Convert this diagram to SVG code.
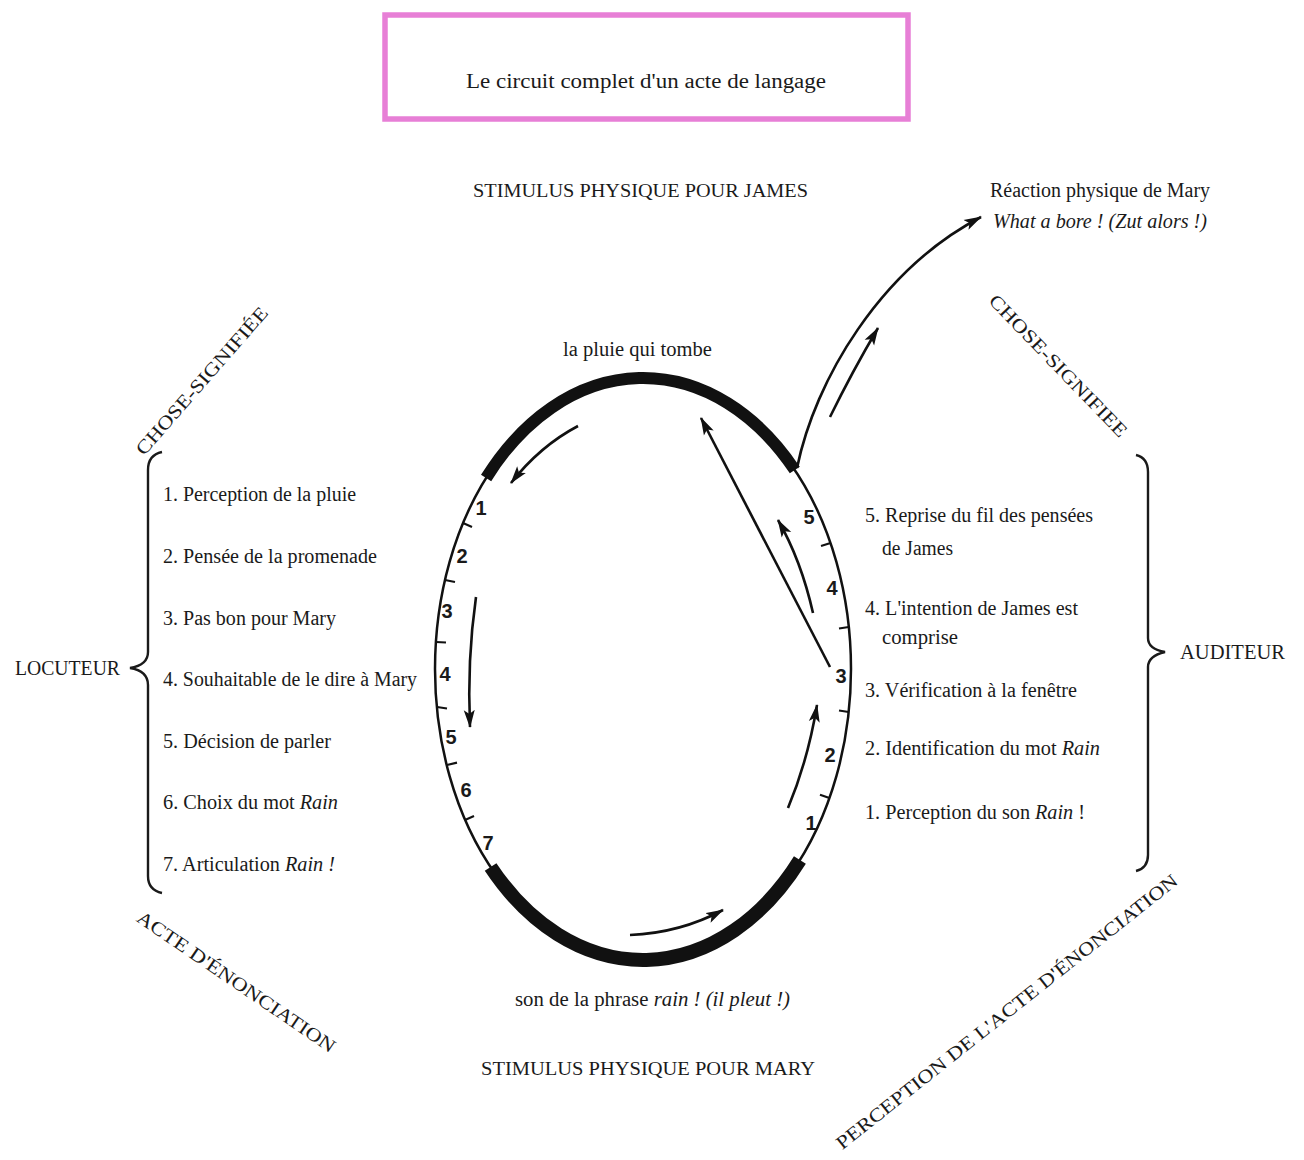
<svg xmlns="http://www.w3.org/2000/svg" width="1304" height="1160" viewBox="0 0 1304 1160">
<defs>
<marker id="ah" markerUnits="userSpaceOnUse" markerWidth="20" markerHeight="12" refX="17" refY="6" orient="auto">
<path d="M0,0.5 L18,6 L0,11.5 L4,6 Z" fill="#111"/>
</marker>
<style>
.t{font-family:"Liberation Serif","Times New Roman",serif;fill:#1a1a1a;font-size:20px}
.cap{font-size:19px}
.n{font-family:"Liberation Sans",Arial,sans-serif;font-weight:bold;font-size:20px;fill:#1a1a1a;text-anchor:middle}
.i{font-style:italic}
.thin{fill:none;stroke:#111;stroke-width:2.5}
.thick{fill:none;stroke:#111;stroke-linecap:butt}
.arr{fill:none;stroke:#111;stroke-width:2.6;marker-end:url(#ah)}
.tick{stroke:#111;stroke-width:2.2}
.brace{fill:none;stroke:#1a1a1a;stroke-width:2.4}
</style>
</defs>
<rect width="1304" height="1160" fill="#fff"/>

<g id="title">
<rect x="385" y="15" width="523" height="104" fill="none" stroke="#e77fd6" stroke-width="5.5"/>
<text class="t" x="466" y="88" font-size="23" textLength="360" lengthAdjust="spacingAndGlyphs">Le circuit complet d'un acte de langage</text>
</g>

<g id="circuit">
<ellipse class="thin" cx="643" cy="669" rx="208" ry="291"/>
<path class="thick" stroke-width="12" d="M486.1,478 A208,291 0 0 1 794.8,470"/>
<path class="thick" stroke-width="14" d="M799.9,860 A208,291 0 0 1 490.6,867"/>
<g id="ticks-left">
<line class="tick" x1="463" y1="523" x2="472" y2="527"/>
<line class="tick" x1="445" y1="580" x2="455" y2="582"/>
<line class="tick" x1="436" y1="642" x2="446" y2="642.5"/>
<line class="tick" x1="437" y1="707" x2="447" y2="708.5"/>
<line class="tick" x1="447" y1="765" x2="457" y2="762.6"/>
<line class="tick" x1="465" y1="820" x2="474" y2="816"/>
</g>
<g id="ticks-right">
<line class="tick" x1="830.5" y1="543" x2="821" y2="546"/>
<line class="tick" x1="848.8" y1="627" x2="839" y2="628.5"/>
<line class="tick" x1="848.7" y1="712" x2="839" y2="710.5"/>
<line class="tick" x1="829.4" y1="798" x2="820" y2="794.7"/>
</g>
<g id="numbers-left">
<text class="n" x="481" y="515">1</text>
<text class="n" x="462" y="563">2</text>
<text class="n" x="447" y="618">3</text>
<text class="n" x="445" y="681">4</text>
<text class="n" x="451" y="744">5</text>
<text class="n" x="466" y="797">6</text>
<text class="n" x="488" y="850">7</text>
</g>
<g id="numbers-right">
<text class="n" x="809" y="524">5</text>
<text class="n" x="832" y="595">4</text>
<text class="n" x="841" y="683">3</text>
<text class="n" x="830" y="762">2</text>
<text class="n" x="811" y="830">1</text>
</g>
</g>

<g id="connectors">
<path class="arr" d="M578,426 Q540,446 511,483"/>
<path class="arr" d="M476,597 Q467,660 470,727"/>
<path class="arr" d="M630,935 Q680,933 723,910"/>
<path class="arr" d="M788,808 Q808,760 817,705"/>
<path class="arr" d="M813,613 Q801,560 778,520"/>
<path class="arr" d="M830,667 L701,418"/>
<path class="arr" d="M830,417 Q852,372 878,328"/>
<path class="arr" d="M797,468 C815,380 880,270 981,217"/>
</g>

<g id="labels-center">
<text class="t cap" x="473" y="197" textLength="335" lengthAdjust="spacingAndGlyphs">STIMULUS PHYSIQUE POUR JAMES</text>
<text class="t" x="563" y="356" textLength="149" lengthAdjust="spacingAndGlyphs">la pluie qui tombe</text>
<text class="t" x="515" y="1006" textLength="275" lengthAdjust="spacingAndGlyphs">son de la phrase <tspan class="i">rain ! (il pleut !)</tspan></text>
<text class="t cap" x="481" y="1075" textLength="334" lengthAdjust="spacingAndGlyphs">STIMULUS PHYSIQUE POUR MARY</text>
</g>

<g id="reaction">
<text class="t" x="990" y="197" textLength="220" lengthAdjust="spacingAndGlyphs">Réaction physique de Mary</text>
<text class="t i" x="993" y="228" textLength="214" lengthAdjust="spacingAndGlyphs">What a bore ! (Zut alors !)</text>
</g>

<g id="locuteur">
<path class="brace" d="M162,452 Q148,455 148,470 L148,652 Q148,665 130,668 Q148,671 148,685 L148,876 Q148,890 162,893"/>
<text class="t" x="15" y="675" textLength="105" lengthAdjust="spacingAndGlyphs">LOCUTEUR</text>
<text class="t" x="163" y="501" textLength="193" lengthAdjust="spacingAndGlyphs">1. Perception de la pluie</text>
<text class="t" x="163" y="563" textLength="214" lengthAdjust="spacingAndGlyphs">2. Pensée de la promenade</text>
<text class="t" x="163" y="625" textLength="173" lengthAdjust="spacingAndGlyphs">3. Pas bon pour Mary</text>
<text class="t" x="163" y="686" textLength="254" lengthAdjust="spacingAndGlyphs">4. Souhaitable de le dire à Mary</text>
<text class="t" x="163" y="748" textLength="168" lengthAdjust="spacingAndGlyphs">5. Décision de parler</text>
<text class="t" x="163" y="809" textLength="175" lengthAdjust="spacingAndGlyphs">6. Choix du mot <tspan class="i">Rain</tspan></text>
<text class="t" x="163" y="871" textLength="172" lengthAdjust="spacingAndGlyphs">7. Articulation <tspan class="i">Rain !</tspan></text>
</g>

<g id="auditeur">
<path class="brace" d="M1136,455 Q1148,458 1148,472 L1148,638 Q1148,649 1165,652 Q1148,656 1148,667 L1148,855 Q1148,868 1136,871"/>
<text class="t" x="1180" y="659" textLength="105" lengthAdjust="spacingAndGlyphs">AUDITEUR</text>
<text class="t" x="865" y="522" textLength="228" lengthAdjust="spacingAndGlyphs">5. Reprise du fil des pensées</text>
<text class="t" x="882" y="555" textLength="71" lengthAdjust="spacingAndGlyphs">de James</text>
<text class="t" x="865" y="615" textLength="213" lengthAdjust="spacingAndGlyphs">4. L'intention de James est</text>
<text class="t" x="882" y="644" textLength="76" lengthAdjust="spacingAndGlyphs">comprise</text>
<text class="t" x="865" y="697" textLength="212" lengthAdjust="spacingAndGlyphs">3. Vérification à la fenêtre</text>
<text class="t" x="865" y="755" textLength="235" lengthAdjust="spacingAndGlyphs">2. Identification du mot <tspan class="i">Rain</tspan></text>
<text class="t" x="865" y="819" textLength="220" lengthAdjust="spacingAndGlyphs">1. Perception du son <tspan class="i">Rain</tspan> !</text>
</g>

<g id="rotated-labels">
<text class="t cap" transform="translate(202,381) rotate(-48.8)" x="0" y="6" text-anchor="middle" textLength="190" lengthAdjust="spacingAndGlyphs">CHOSE-SIGNIFIÉE</text>
<text class="t cap" transform="translate(1058,366) rotate(46)" x="0" y="6" text-anchor="middle" textLength="190" lengthAdjust="spacingAndGlyphs">CHOSE-SIGNIFIEE</text>
<text class="t cap" transform="translate(236,982) rotate(34.3)" x="0" y="6" text-anchor="middle" textLength="236" lengthAdjust="spacingAndGlyphs">ACTE D'ÉNONCIATION</text>
<text class="t cap" transform="translate(1007,1012) rotate(-38.4)" x="0" y="6" text-anchor="middle" textLength="430" lengthAdjust="spacingAndGlyphs">PERCEPTION DE L'ACTE D'ÉNONCIATION</text>
</g>
</svg>
